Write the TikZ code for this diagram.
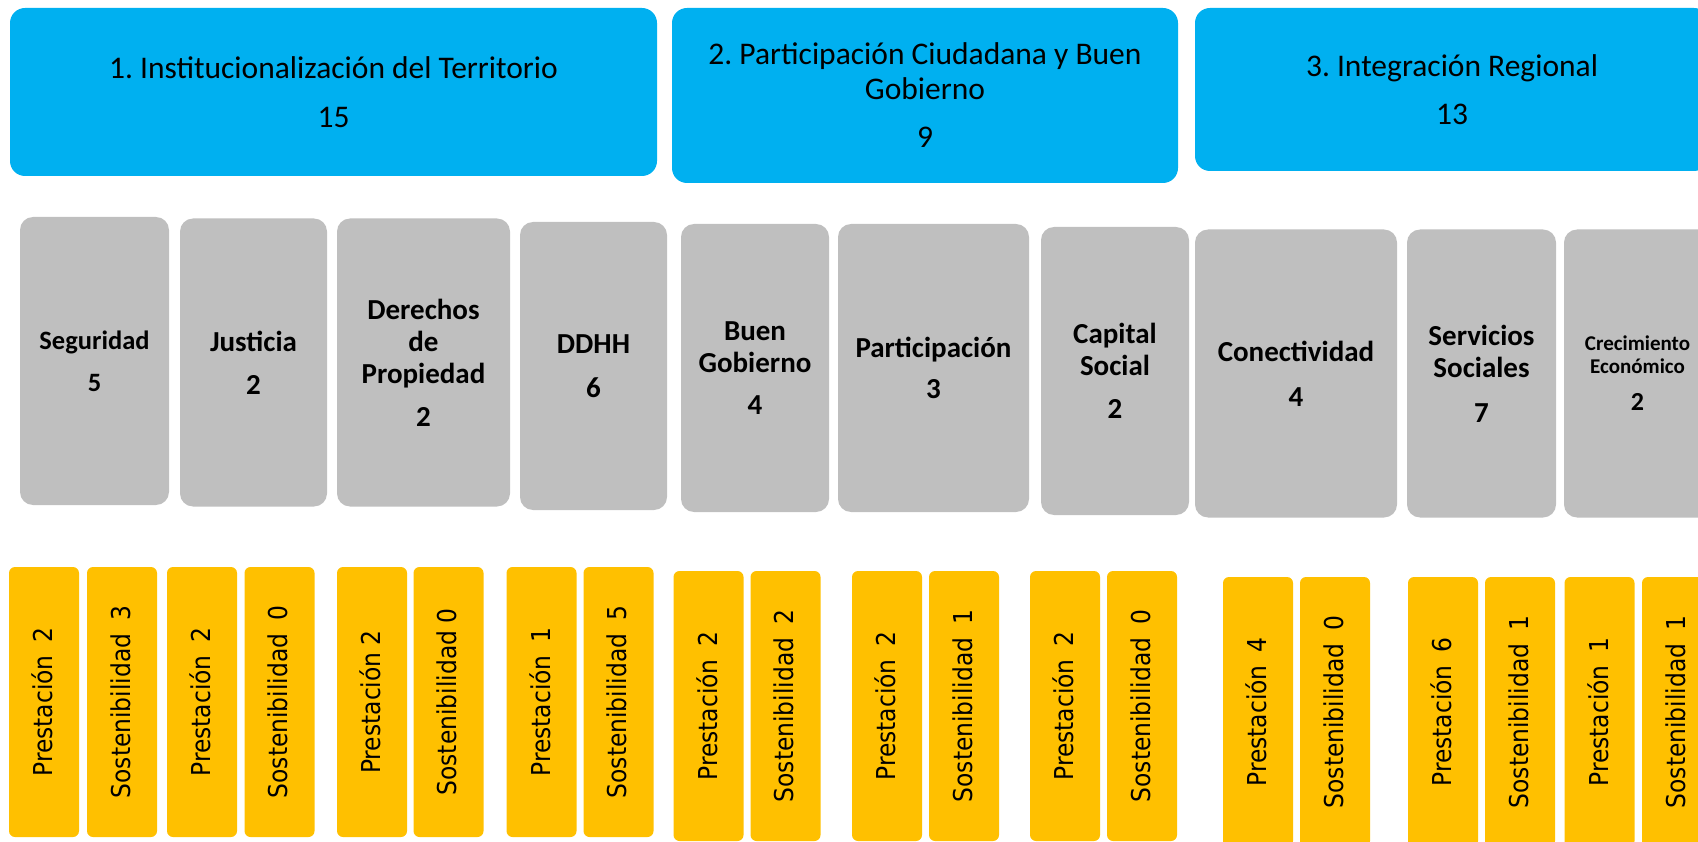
\documentclass[tikz,border=0pt]{standalone}
\usepackage{fontspec}
\setmainfont{Carlito}
\newfontfamily\compfont[FakeStretch=0.9]{DejaVu Sans}
\frenchspacing

\definecolor{ejeblue}{HTML}{00B0F0}
\definecolor{temagray}{HTML}{BFBFBF}
\definecolor{compyellow}{HTML}{FFC000}

\newcommand{\gap}{\hspace{0.5em}}

\tikzset{
  eje/.style={fill=ejeblue, rounded corners=15pt, inner sep=0pt, align=center,
    font=\fontsize{31.5}{35}\selectfont},
  tema/.style={fill=temagray, rounded corners=13pt, inner sep=0pt, align=center,
    minimum height=288pt, font=\bfseries\fontsize{29}{32}\selectfont},
  comp/.style={fill=compyellow, rounded corners=6pt, inner sep=0pt, rotate=90,
    minimum width=270pt, minimum height=70pt, text depth=0.3em,
    font=\compfont\fontsize{26}{30}\selectfont},
}

\begin{document}
\begin{tikzpicture}[x=1pt, y=-1pt]
\useasboundingbox (0,0) rectangle (1698,842);
\clip (0,0) rectangle (1698,842);

% Ejes
\node[eje, minimum width=647pt, minimum height=168pt] (eje1) at (333.5,92) {1. Institucionalización del Territorio\\[14pt]15};
\node[eje, minimum width=506pt, minimum height=175pt] (eje2) at (925,95.5) {2. Participación Ciudadana y Buen\\Gobierno\\[13pt]9};
\node[eje, minimum width=514pt, minimum height=163pt] (eje3) at (1452,89.5) {3. Integración Regional\\[13pt]13};

% Temas
\node[tema, minimum width=149pt, font=\bfseries\fontsize{26.5}{30}\selectfont] (seguridad) at (94.5,361) {Seguridad\\[12pt]5};
\node[tema, minimum width=147pt] (justicia) at (253.5,362.5) {Justicia\\[11pt]2};
\node[tema, minimum width=173pt] (derechos) at (423.5,362.5) {Derechos\\de\\Propiedad\\[11pt]2};
\node[tema, minimum width=147pt] (ddhh) at (593.5,366) {DDHH\\[12pt]6};
\node[tema, minimum width=148pt] (buengob) at (755,368) {Buen\\Gobierno\\[10pt]4};
\node[tema, minimum width=191pt] (particip) at (933.5,368) {Participación\\[9pt]3};
\node[tema, minimum width=148pt] (capital) at (1115,371) {Capital\\Social\\[11pt]2};
\node[tema, minimum width=202pt] (conect) at (1296,373.5) {Conectividad\\[13pt]4};
\node[tema, minimum width=149pt] (servicios) at (1481.5,373.5) {Servicios\\Sociales\\[13pt]7};
\node[tema, minimum width=147pt, font=\bfseries\fontsize{21}{23}\selectfont] (crecim) at (1637.5,373.5) {Crecimiento\\Económico\\[14pt]\fontsize{26}{23}\selectfont 2};

% Componentes
\node[comp] (prest1) at (44,702) {Prestación\gap 2};
\node[comp] (sost1) at (122,702) {Sostenibilidad\gap 3};
\node[comp] (prest2) at (202,702) {Prestación\gap 2};
\node[comp] (sost2) at (279.5,702) {Sostenibilidad\gap 0};
\node[comp] (prest3) at (372,702) {Prestación 2};
\node[comp] (sost3) at (448.5,702) {Sostenibilidad 0};
\node[comp] (prest4) at (541.5,702) {Prestación\gap 1};
\node[comp] (sost4) at (618.5,702) {Sostenibilidad\gap 5};
\node[comp] (prest5) at (708.5,706) {Prestación\gap 2};
\node[comp] (sost5) at (785.5,706) {Sostenibilidad\gap 2};
\node[comp] (prest6) at (887,706) {Prestación\gap 2};
\node[comp] (sost6) at (964,706) {Sostenibilidad\gap 1};
\node[comp] (prest7) at (1065,706) {Prestación\gap 2};
\node[comp] (sost7) at (1142,706) {Sostenibilidad\gap 0};
\node[comp] (prest8) at (1258,712) {Prestación\gap 4};
\node[comp] (sost8) at (1335,712) {Sostenibilidad\gap 0};
\node[comp] (prest9) at (1443,712) {Prestación\gap 6};
\node[comp] (sost9) at (1520,712) {Sostenibilidad\gap 1};
\node[comp] (prest10) at (1599.5,712) {Prestación\gap 1};
\node[comp] (sost10) at (1677,712) {Sostenibilidad\gap 1};
\end{tikzpicture}
\end{document}
